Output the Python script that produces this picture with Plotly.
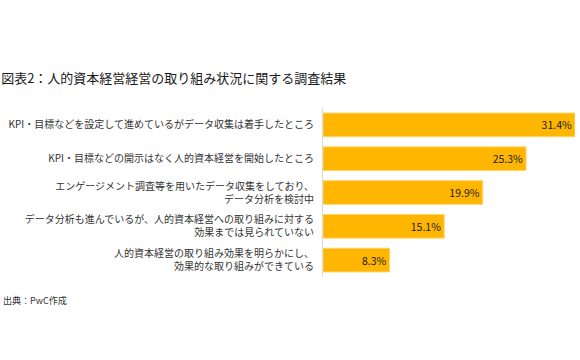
import plotly.graph_objects as go

categories = [
    "KPI・目標などを設定して進めているがデータ収集は着手したところ",
    "KPI・目標などの開示はなく人的資本経営を開始したところ",
    "エンゲージメント調査等を用いたデータ収集をしており、<br>データ分析を検討中",
    "データ分析も進んでいるが、人的資本経営への取り組みに対する<br>効果までは見られていない",
    "人的資本経営の取り組み効果を明らかにし、<br>効果的な取り組みができている",
]
values = [31.4, 25.3, 19.9, 15.1, 8.3]
value_labels = ["31.4%", "25.3%", "19.9%", "15.1%", "8.3%"]

FONT = "Noto Sans CJK JP"

fig = go.Figure(go.Bar(
    x=values,
    y=categories,
    orientation="h",
    text=value_labels,
    textposition="inside",
    insidetextanchor="end",
    textfont=dict(family=FONT, size=10.5, color="#1a1a1a"),
    marker=dict(color="#FFB600", line=dict(color="#FFD46B", width=1)),
    width=0.7,
))

fig.update_layout(
    width=580, height=360,
    margin=dict(l=323, r=5, t=108, b=83, autoexpand=False),
    paper_bgcolor="white", plot_bgcolor="white",
    showlegend=False,
    font=dict(family=FONT, size=10, color="#333333"),
    title=dict(text="図表2：人的資本経営経営の取り組み状況に関する調査結果",
               x=0.002, xanchor="left", y=1 - 78 / 360, yanchor="middle",
               font=dict(family=FONT, size=13, color="#1a1a1a")),
    xaxis=dict(range=[0, 31.4], visible=False, fixedrange=True, automargin=False),
    yaxis=dict(autorange="reversed", showline=True, linecolor="#d9d9d9", linewidth=1,
               ticks="", ticklabelstandoff=6, showgrid=False, automargin=False,
               tickfont=dict(family=FONT, size=10, color="#333333")),
    annotations=[dict(text="出典：PwC作成", xref="paper", yref="paper",
                      x=-322 / 252, xanchor="left", y=-(300 - 277) / 169, yanchor="middle",
                      showarrow=False, font=dict(family=FONT, size=9, color="#333333"))],
    uniformtext=dict(minsize=8, mode="show"),
)

fig.write_html("out.html", config={"displayModeBar": False},
               post_script="document.body.style.margin='0';")
